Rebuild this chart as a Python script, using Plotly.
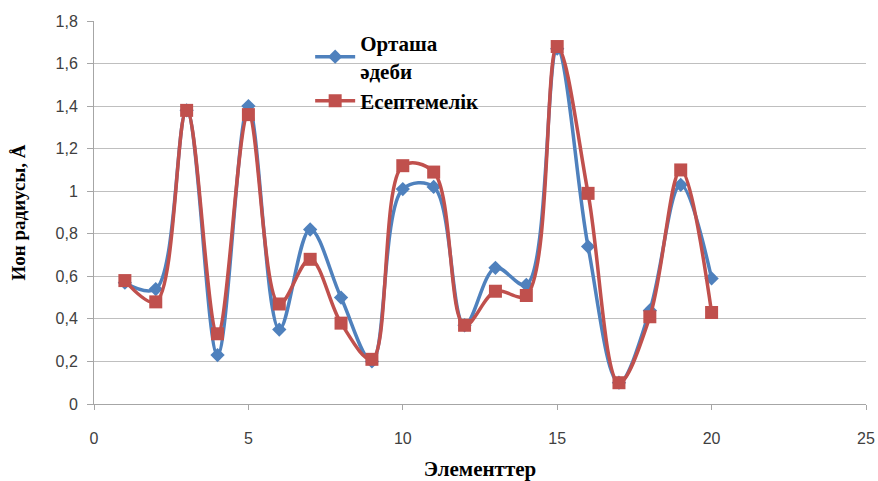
import plotly.graph_objects as go

elements = list(range(1, 21))
ortasha = [0.57, 0.54, 1.38, 0.23, 1.40, 0.35, 0.82, 0.50, 0.20, 1.01,
           1.02, 0.37, 0.64, 0.56, 1.67, 0.74, 0.10, 0.44, 1.03, 0.59]
esep = [0.58, 0.48, 1.38, 0.33, 1.36, 0.47, 0.68, 0.38, 0.21, 1.12,
        1.09, 0.37, 0.53, 0.51, 1.68, 0.99, 0.10, 0.41, 1.10, 0.43]

fig = go.Figure()
fig.add_trace(go.Scatter(
    x=elements, y=ortasha, name="<b>Орташа<br>әдеби</b>",
    mode="lines+markers",
    line=dict(color="#4F81BD", width=3.5, shape="spline", smoothing=1),
    marker=dict(symbol="diamond", size=11, color="#4F81BD"),
))
fig.add_trace(go.Scatter(
    x=elements, y=esep, name="<b>Есептемелік</b>",
    mode="lines+markers",
    line=dict(color="#C0504D", width=3.5, shape="spline", smoothing=1),
    marker=dict(symbol="square", size=13, color="#C0504D"),
))

fig.update_layout(
    width=878, height=481,
    margin=dict(l=94, r=12, t=21, b=77),
    plot_bgcolor="white", paper_bgcolor="white",
    separators=", ",
    showlegend=True,
    legend=dict(
        x=0.28, y=0.995, xanchor="left", yanchor="top",
        bgcolor="rgba(0,0,0,0)",
        font=dict(family="Liberation Serif", size=21, color="black"),
        itemwidth=40, tracegroupgap=0,
    ),
    xaxis=dict(
        range=[0, 25], dtick=5, tick0=0, automargin=False,
        showgrid=False, zeroline=False,
        showline=True, linecolor="#A6A6A6", linewidth=1,
        ticks="outside", ticklen=5, tickcolor="#A6A6A6",
        ticklabelstandoff=15,
        tickfont=dict(family="Liberation Sans", size=16, color="#404040"),
        title=dict(text="<b>Элементтер</b>", standoff=25,
                   font=dict(family="Liberation Serif", size=21, color="black")),
    ),
    yaxis=dict(
        range=[0, 1.8], dtick=0.2, tick0=0, automargin=False,
        showgrid=True, gridcolor="#BFBFBF", gridwidth=1,
        zeroline=False,
        showline=True, linecolor="#A6A6A6", linewidth=1,
        ticks="outside", ticklen=6, tickcolor="#A6A6A6",
        ticklabelstandoff=6,
        tickformat="~g",
        tickfont=dict(family="Liberation Sans", size=16, color="#404040"),
        title=dict(text="<b>Ион радиусы, Å</b>", standoff=24,
                   font=dict(family="Liberation Serif", size=19, color="black")),
    ),
)

fig.write_html("out.html")
